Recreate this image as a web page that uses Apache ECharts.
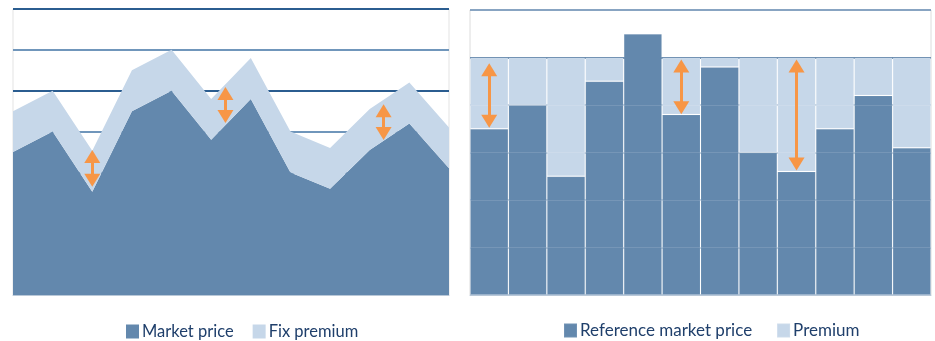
<!DOCTYPE html>
<html>
<head>
<meta charset="utf-8">
<script src="https://cdn.jsdelivr.net/npm/echarts@6/dist/echarts.min.js"></script>
<style>
html,body{margin:0;padding:0;background:#fff;}
#c{width:935px;height:341px;}
</style>
</head>
<body>
<div id="c"></div>
<script>
// ---- Left chart (stacked areas) ----
var leftCategories = ['1','2','3','4','5','6','7','8','9','10','11','12'];
var marketPrice = [35, 40, 25.3, 45, 50, 38, 48, 30, 26, 35.5, 42, 31];
var fixPremium  = [10, 10, 10, 10, 10, 10, 10, 10, 10, 10, 10, 10];
var leftYTicks = [0, 10, 20, 30, 40, 50, 60, 70];
// arrows: [x position (category index, may be fractional), lower end value, upper end value]
var leftArrows = [[2, 28.1, 33.9], [5.36, 43.7, 49.3], [9.35, 39.5, 45.1]];

// ---- Right chart (stacked bars) ----
var rightCategories = ['1','2','3','4','5','6','7','8','9','10','11','12'];
var refMarketPrice = [3.5, 4.0, 2.5, 4.5, 5.5, 3.8, 4.8, 3.0, 2.6, 3.5, 4.2, 3.1];
var premium        = [1.5, 1.0, 2.5, 0.5, 0, 1.2, 0.2, 2.0, 2.4, 1.5, 0.8, 1.9];
var rightYTicks = [0, 1, 2, 3, 4, 5, 6];
var rightArrows = [[0, 3.66, 4.74], [5, 3.94, 4.82], [8, 2.76, 4.82]];

var DARK = '#6388ad', LIGHT = '#c6d7e9', ORANGE = '#f79646', TEXT = '#1f3f6b';

function arrowLines(list) {
  return list.map(function (a) {
    return [{ coord: [a[0], a[2]] }, { coord: [a[0], a[1]] }];
  });
}

var chart = echarts.init(document.getElementById('c'));
chart.setOption({
  animation: false,
  textStyle: { fontFamily: 'Lato' },
  grid: [
    { left: 13, top: 9, width: 436, height: 286, show: true, borderColor: '#e3e3e3', borderWidth: 1 },
    { left: 470, top: 10, width: 461, height: 285, show: true, borderColor: '#dcdcdc', borderWidth: 1 }
  ],
  legend: [
    { data: ['Market price', 'Fix premium'], left: 121, top: 318, icon: 'rect', itemWidth: 13, itemHeight: 14, itemGap: 19,
      textStyle: { color: TEXT, fontSize: 16.5, fontFamily: 'Lato', padding: [0, 0, 0, -2] } },
    { data: ['Reference market price', 'Premium'], left: 558, top: 317, icon: 'rect', itemWidth: 13, itemHeight: 14, itemGap: 24,
      textStyle: { color: TEXT, fontSize: 17, fontFamily: 'Lato', padding: [0, 0, 0, -2] } }
  ],
  xAxis: [
    { gridIndex: 0, type: 'category', data: leftCategories, boundaryGap: false,
      axisLine: { show: true, lineStyle: { color: '#b9c8d8', width: 1 } },
      axisTick: { show: false }, axisLabel: { show: false }, splitLine: { show: false } },
    { gridIndex: 1, type: 'category', data: rightCategories, boundaryGap: true,
      axisLine: { show: true, lineStyle: { color: '#b9c8d8', width: 1 } },
      axisTick: { show: false }, axisLabel: { show: false }, splitLine: { show: false } },
    { gridIndex: 0, type: 'value', min: 0, max: leftCategories.length - 1, show: false }
  ],
  yAxis: [
    { gridIndex: 0, type: 'value', min: leftYTicks[0], max: leftYTicks[leftYTicks.length - 1], interval: 10,
      axisLine: { show: false }, axisTick: { show: false }, axisLabel: { show: false },
      splitLine: { show: true, lineStyle: { color: ['#7096bb', '#2b5d90'], width: 2 } } },
    { gridIndex: 1, type: 'value', min: rightYTicks[0], max: rightYTicks[rightYTicks.length - 1], interval: 1,
      axisLine: { show: false }, axisTick: { show: false }, axisLabel: { show: false },
      splitLine: { show: true, lineStyle: { color: ['#c0cfde', '#c0cfde', '#c0cfde', '#c0cfde', '#c0cfde', '#6b8db0', '#88a4c2'], width: 2 } } }
  ],
  series: [
    { name: 'Market price', type: 'line', xAxisIndex: 0, yAxisIndex: 0, stack: 'L',
      data: marketPrice,
      symbol: 'none', lineStyle: { width: 0 }, itemStyle: { color: DARK },
      areaStyle: { color: DARK, opacity: 1 }, z: 2 },
    { name: 'Fix premium', type: 'line', xAxisIndex: 0, yAxisIndex: 0, stack: 'L',
      data: fixPremium,
      symbol: 'none', lineStyle: { width: 0 }, itemStyle: { color: LIGHT },
      areaStyle: { color: LIGHT, opacity: 1 }, z: 2 },
    { name: 'Reference market price', type: 'bar', xAxisIndex: 1, yAxisIndex: 1, stack: 'R',
      data: refMarketPrice, barWidth: '100%', barCategoryGap: '0%',
      itemStyle: { color: DARK, borderColor: 'rgba(255,255,255,0.09)', borderWidth: 1 }, z: 2 },
    { name: 'Premium', type: 'bar', xAxisIndex: 1, yAxisIndex: 1, stack: 'R',
      data: premium, barWidth: '100%', barCategoryGap: '0%',
      itemStyle: { color: LIGHT, borderColor: 'rgba(255,255,255,0.12)', borderWidth: 1 }, z: 2 },
    { name: 'grid-overlay', type: 'line', xAxisIndex: 1, yAxisIndex: 1, data: [], z: 4,
      markLine: { silent: true, symbol: ['none', 'none'], label: { show: false },
        lineStyle: { color: 'rgba(255,255,255,0.12)', width: 1, type: 'solid' },
        data: [1, 2, 3, 4].map(function (v) { return { yAxis: v }; }) } },
    { name: 'left-arrows', type: 'line', xAxisIndex: 2, yAxisIndex: 0, data: [], z: 6,
      markLine: { silent: true, symbol: ['triangle', 'triangle'], symbolSize: [16, 13], label: { show: false },
        lineStyle: { color: ORANGE, width: 3, type: 'solid' }, itemStyle: { color: ORANGE },
        data: arrowLines(leftArrows) } },
    { name: 'right-arrows', type: 'line', xAxisIndex: 1, yAxisIndex: 1, data: [], z: 6,
      markLine: { silent: true, symbol: ['triangle', 'triangle'], symbolSize: [16, 13], label: { show: false },
        lineStyle: { color: ORANGE, width: 3, type: 'solid' }, itemStyle: { color: ORANGE },
        data: arrowLines(rightArrows) } }
  ]
});
</script>
</body>
</html>
